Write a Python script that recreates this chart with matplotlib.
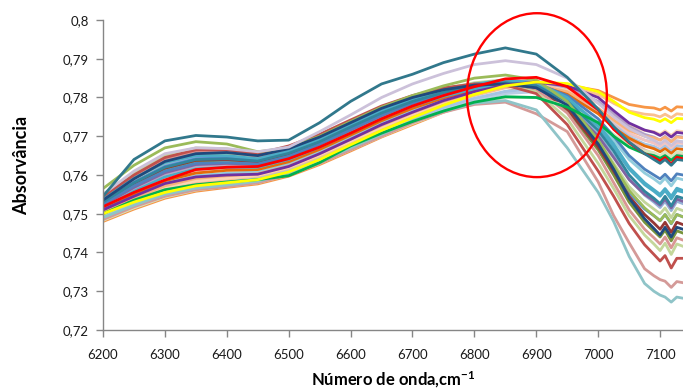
import matplotlib
matplotlib.use("Agg")
import matplotlib.pyplot as plt
from matplotlib.patches import Ellipse
from matplotlib.ticker import FuncFormatter

plt.rcParams['font.family'] = ['Lato', 'DejaVu Sans']
plt.rcParams['mathtext.fontset'] = 'custom'
plt.rcParams['mathtext.rm'] = 'Lato'
plt.rcParams['mathtext.bf'] = 'Lato:bold'
plt.rcParams['mathtext.default'] = 'bf'

# ---- data -------------------------------------------------------------
wavenumber = [6200, 6250, 6300, 6350, 6400, 6450, 6500, 6550, 6600, 6650, 6700, 6750, 6800,
              6850, 6900, 6950, 7000, 7025, 7050, 7075, 7090, 7100, 7108, 7118, 7127, 7137]

x_ticks = [6200, 6300, 6400, 6500, 6600, 6700, 6800, 6900, 7000, 7100]
y_ticks = [0.72, 0.73, 0.74, 0.75, 0.76, 0.77, 0.78, 0.79, 0.80]

s_orange_top = [.7480, .7512, .7540, .7558, .7568, .7577, .7597, .7627, .7662, .7698, .7730, .7762, .7790,
                .7815, .7830, .7832, .7818, .7800, .7782, .7775, .7773, .7768, .7775, .7765, .7776, .7775]
s_light_peach = [.7498, .7535, .7566, .7585, .7592, .7598, .7618, .7650, .7687, .7723, .7757, .7786, .7810,
                 .7828, .7836, .7822, .7785, .7755, .7728, .7715, .7712, .7705, .7714, .7702, .7714, .7712]
s_peach = [.7495, .7530, .7560, .7578, .7585, .7592, .7612, .7644, .7680, .7716, .7750, .7780, .7805,
           .7825, .7835, .7830, .7808, .7785, .7765, .7757, .7755, .7750, .7757, .7748, .7758, .7756]
s_pale_blue = [.7488, .7520, .7548, .7566, .7575, .7584, .7603, .7634, .7670, .7705, .7738, .7768, .7792,
               .7810, .7815, .7800, .7765, .7735, .7705, .7690, .7685, .7678, .7688, .7675, .7688, .7686]
s_sky = [.7492, .7526, .7556, .7574, .7582, .7590, .7610, .7641, .7677, .7712, .7745, .7774, .7798,
         .7816, .7822, .7806, .7762, .7728, .7698, .7680, .7674, .7666, .7676, .7662, .7676, .7674]
s_light_green = [.7550, .7605, .7650, .7670, .7668, .7652, .7668, .7698, .7736, .7772, .7800, .7822, .7838,
                 .7846, .7835, .7780, .7690, .7630, .7570, .7530, .7512, .7500, .7515, .7490, .7514, .7508]
s_salmon = [.7515, .7560, .7598, .7620, .7625, .7625, .7645, .7676, .7713, .7750, .7782, .7807, .7826,
            .7838, .7835, .7812, .7765, .7728, .7690, .7665, .7655, .7646, .7656, .7640, .7656, .7652]
s_coral = [.7508, .7550, .7588, .7610, .7616, .7618, .7638, .7670, .7707, .7744, .7776, .7802, .7822,
           .7836, .7836, .7815, .7772, .7740, .7708, .7690, .7682, .7674, .7684, .7670, .7684, .7681]
s_lilac = [.7520, .7565, .7603, .7624, .7628, .7627, .7647, .7678, .7715, .7752, .7784, .7809, .7828,
           .7841, .7842, .7826, .7790, .7758, .7725, .7705, .7698, .7690, .7700, .7686, .7700, .7698]
s_light_aqua = [.7505, .7545, .7578, .7598, .7605, .7608, .7628, .7660, .7697, .7734, .7766, .7794, .7816,
                .7830, .7828, .7795, .7735, .7690, .7640, .7605, .7590, .7578, .7592, .7572, .7592, .7588]
s_gray_blue = [.7535, .7585, .7626, .7645, .7646, .7640, .7660, .7690, .7728, .7764, .7794, .7816, .7832,
               .7841, .7832, .7788, .7705, .7650, .7590, .7548, .7530, .7516, .7532, .7508, .7532, .7526]
s_steel = [.7532, .7582, .7622, .7642, .7644, .7638, .7657, .7688, .7726, .7762, .7792, .7815, .7831,
           .7838, .7826, .7775, .7680, .7620, .7555, .7512, .7495, .7482, .7498, .7474, .7498, .7492]
s_dark_olive = [.7528, .7577, .7616, .7636, .7638, .7633, .7652, .7683, .7720, .7757, .7788, .7811, .7828,
                .7836, .7822, .7765, .7665, .7600, .7530, .7478, .7455, .7440, .7458, .7430, .7456, .7450]
s_mint = [.7538, .7590, .7632, .7652, .7654, .7646, .7664, .7694, .7731, .7767, .7796, .7818, .7832,
          .7834, .7815, .7745, .7630, .7565, .7495, .7445, .7422, .7405, .7424, .7395, .7422, .7416]
s_brown = [.7528, .7578, .7618, .7638, .7640, .7634, .7653, .7684, .7722, .7758, .7789, .7812, .7830,
           .7836, .7824, .7770, .7672, .7610, .7545, .7498, .7476, .7460, .7478, .7452, .7478, .7472]
s_sand = [.7502, .7540, .7572, .7591, .7598, .7603, .7623, .7655, .7692, .7728, .7761, .7790, .7812,
          .7828, .7832, .7815, .7772, .7742, .7715, .7700, .7696, .7690, .7698, .7686, .7698, .7696]
s_dark_orange = [.7510, .7550, .7585, .7605, .7612, .7614, .7634, .7666, .7703, .7740, .7772, .7799, .7820,
                 .7834, .7833, .7808, .7758, .7722, .7695, .7675, .7668, .7660, .7668, .7656, .7668, .7666]
s_rose = [.7540, .7595, .7640, .7660, .7660, .7648, .7665, .7695, .7733, .7769, .7798, .7820, .7834,
          .7838, .7822, .7760, .7650, .7580, .7510, .7460, .7438, .7422, .7440, .7412, .7438, .7432]
s_mid_purple = [.7522, .7568, .7606, .7627, .7630, .7628, .7648, .7679, .7716, .7753, .7785, .7808, .7826,
                .7836, .7826, .7780, .7700, .7645, .7588, .7550, .7534, .7522, .7538, .7515, .7538, .7532]
s_aqua_b = [.7515, .7558, .7595, .7616, .7620, .7620, .7640, .7672, .7709, .7746, .7778, .7803, .7822,
            .7834, .7830, .7795, .7725, .7672, .7615, .7575, .7558, .7545, .7560, .7538, .7560, .7556]
s_pale_green = [.7483, .7515, .7543, .7561, .7571, .7580, .7600, .7630, .7665, .7700, .7733, .7762, .7785,
                .7800, .7800, .7778, .7735, .7705, .7676, .7662, .7658, .7650, .7660, .7646, .7660, .7657]
s_blue = [.7525, .7572, .7610, .7630, .7632, .7628, .7648, .7680, .7718, .7755, .7786, .7810, .7828,
          .7840, .7836, .7805, .7745, .7700, .7650, .7615, .7600, .7590, .7602, .7585, .7603, .7600]
s_aqua = [.7540, .7592, .7632, .7650, .7650, .7642, .7662, .7692, .7730, .7766, .7796, .7818, .7835,
          .7845, .7838, .7800, .7730, .7680, .7620, .7580, .7562, .7550, .7565, .7545, .7566, .7560]
s_dark_aqua = [.7530, .7580, .7620, .7640, .7642, .7636, .7656, .7686, .7724, .7760, .7790, .7813, .7830,
               .7838, .7830, .7790, .7715, .7662, .7600, .7558, .7540, .7526, .7545, .7520, .7545, .7540]
s_brick = [.7545, .7600, .7645, .7665, .7665, .7655, .7675, .7705, .7742, .7778, .7805, .7825, .7835,
           .7832, .7810, .7730, .7610, .7545, .7475, .7420, .7395, .7378, .7392, .7360, .7385, .7385]
s_olive = [.7565, .7625, .7670, .7686, .7680, .7660, .7670, .7700, .7738, .7775, .7805, .7830, .7850,
           .7858, .7845, .7790, .7690, .7625, .7560, .7515, .7495, .7482, .7498, .7475, .7498, .7492]
s_rosy_low = [.7485, .7518, .7545, .7562, .7570, .7580, .7600, .7630, .7665, .7700, .7735, .7762, .7782,
              .7788, .7758, .7712, .7582, .7495, .7425, .7358, .7340, .7330, .7326, .7310, .7325, .7322]
s_aqua_low = [.7490, .7522, .7550, .7566, .7574, .7584, .7604, .7635, .7670, .7705, .7740, .7765, .7785,
              .7792, .7768, .7670, .7555, .7480, .7390, .7320, .7300, .7290, .7285, .7272, .7285, .7282]
s_navy = [.7535, .7590, .7635, .7655, .7658, .7650, .7668, .7698, .7735, .7772, .7800, .7820, .7832,
          .7835, .7825, .7780, .7680, .7615, .7540, .7487, .7462, .7445, .7465, .7440, .7465, .7460]
s_green = [.7500, .7535, .7562, .7575, .7582, .7588, .7598, .7632, .7675, .7708, .7738, .7765, .7788,
           .7802, .7800, .7775, .7735, .7700, .7672, .7655, .7650, .7643, .7650, .7638, .7650, .7648]
s_purple = [.7510, .7545, .7578, .7595, .7600, .7602, .7622, .7655, .7692, .7730, .7762, .7792, .7815,
            .7832, .7840, .7830, .7800, .7766, .7734, .7716, .7710, .7702, .7710, .7698, .7710, .7708]
s_yellow = [.7500, .7530, .7555, .7572, .7580, .7588, .7608, .7640, .7678, .7715, .7748, .7780, .7808,
            .7830, .7840, .7836, .7815, .7790, .7762, .7748, .7744, .7738, .7745, .7735, .7746, .7745]
s_red = [.7518, .7555, .7587, .7614, .7620, .7622, .7642, .7672, .7708, .7745, .7778, .7805, .7828,
         .7848, .7852, .7828, .7768, .7718, .7683, .7655, .7645, .7636, .7645, .7628, .7646, .7642]
s_lavender = [.7550, .7610, .7655, .7670, .7668, .7660, .7672, .7712, .7755, .7800, .7835, .7862, .7885,
              .7895, .7885, .7850, .7785, .7750, .7720, .7700, .7690, .7680, .7690, .7676, .7688, .7685]
s_teal_top = [.7545, .7640, .7688, .7702, .7698, .7688, .7690, .7735, .7790, .7835, .7860, .7890, .7912,
              .7928, .7912, .7852, .7770, .7725, .7685, .7655, .7640, .7630, .7640, .7625, .7640, .7638]

# ---- drawing order and styles ------------------------------------------
series = [
    (s_orange_top, '#F79646'), (s_light_peach, '#FCD5B5'), (s_peach, '#FAC090'),
    (s_pale_blue, '#B9CDE5'), (s_sky, '#A6C4E4'), (s_light_green, '#C3D69B'),
    (s_salmon, '#E6B9B8'), (s_coral, '#F2C4C2'), (s_lilac, '#B3A2C7'),
    (s_light_aqua, '#93CDDD'), (s_gray_blue, '#95B3D7'), (s_steel, '#558ED5'),
    (s_dark_olive, '#77933C'), (s_mint, '#C4D79B'), (s_brown, '#953735'),
    (s_sand, '#F9B27A'), (s_dark_orange, '#E46C0A'), (s_rose, '#D99694'),
    (s_mid_purple, '#8064A2'), (s_aqua_b, '#4BACC6'), (s_pale_green, '#D7E4BD'),
    (s_blue, '#4F81BD'), (s_aqua, '#4BACC6'), (s_dark_aqua, '#31859C'),
    (s_brick, '#C0504D'), (s_olive, '#9BBB59'), (s_rosy_low, '#D49A98'),
    (s_aqua_low, '#8FC4C8'), (s_navy, '#1F497D'), (s_green, '#00B050'),
    (s_purple, '#7030A0'), (s_yellow, '#FFFF00'), (s_red, '#FF0000'),
    (s_lavender, '#CCC1DA'), (s_teal_top, '#31788C'),
]

W, H = 683, 392
fig = plt.figure(figsize=(W / 100, H / 100), dpi=100)
ax = fig.add_axes([103 / W, 1 - 330 / H, 580 / W, 310 / H])

for vals, col in series:
    ax.plot(wavenumber, vals, color=col, lw=2.0, solid_joinstyle='round')

ax.set_xlim(6200, 7137)
ax.set_ylim(0.72, 0.80)
ax.set_xticks(x_ticks)
ax.set_yticks(y_ticks)
ax.yaxis.set_major_formatter(FuncFormatter(
    lambda v, p: (f"{v:.2f}".rstrip('0')).replace('.', ',')))

for side in ('top', 'right'):
    ax.spines[side].set_visible(False)
for side in ('left', 'bottom'):
    ax.spines[side].set_color('#868686')
    ax.spines[side].set_linewidth(1.0)
ax.tick_params(axis='both', direction='out', length=5, width=1.0, color='#868686',
               labelsize=9.5, labelcolor='#1a1a1a', pad=5)
ax.tick_params(axis='x', pad=9)

ax.set_ylabel('Absorvância', fontsize=13, fontweight='bold')
ax.yaxis.set_label_coords(-0.125, 0.53)
ax.set_xlabel('Número de onda,cm$^{-1}$', fontsize=12, fontweight='bold', labelpad=6)

ell = Ellipse((6901, 0.7806), width=226, height=0.0423, fill=False,
              edgecolor='#FF0000', lw=1.7, clip_on=False, zorder=10)
ax.add_patch(ell)

fig.savefig('out.png', dpi=100)
